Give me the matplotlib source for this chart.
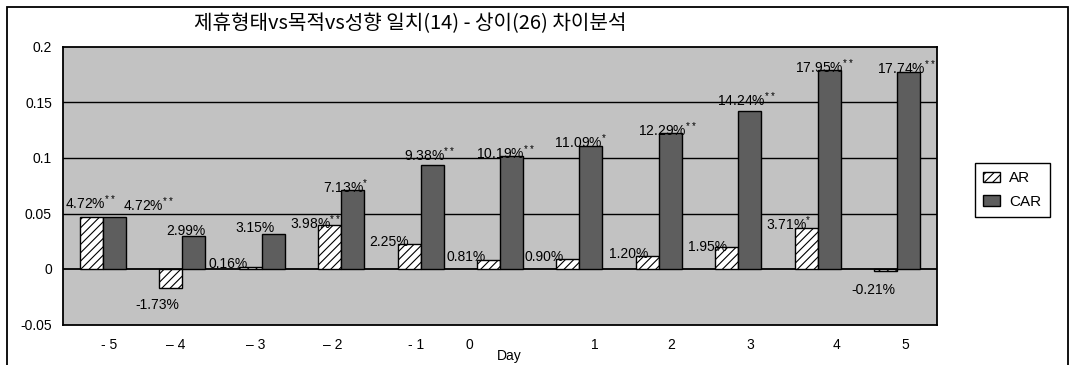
import matplotlib
matplotlib.use('Agg')
import matplotlib.pyplot as plt
import matplotlib.patches as mpatches
import numpy as np

plt.rcParams['font.family'] = ['Liberation Sans', 'Noto Sans CJK KR', 'DejaVu Sans']
plt.rcParams['hatch.linewidth'] = 0.8
plt.rcParams['mathtext.fontset'] = 'custom'
plt.rcParams['mathtext.rm'] = 'Liberation Sans'
plt.rcParams['mathtext.it'] = 'Liberation Sans'

title = '제휴형태vs목적vs성향 일치(14) - 상이(26) 차이분석'

days = ['- 5', '\u2013 4', '\u2013 3', '\u2013 2', '- 1', '0', '1', '2', '3', '4', '5']
ar = [0.0472, -0.0173, 0.0016, 0.0398, 0.0225, 0.0081, 0.0090, 0.0120, 0.0195, 0.0371, -0.0021]
car = [0.0472, 0.0299, 0.0315, 0.0713, 0.0938, 0.1019, 0.1109, 0.1229, 0.1424, 0.1795, 0.1774]
ar_sig = ['**', '', '', '**', '', '', '', '', '', '*', '']
car_sig = ['**', '', '', '*', '**', '**', '*', '**', '**', '**', '**']

# hand placement of the value labels (pixels from the bar end)
ar_dx = [-1, -13, -22, -14, -20, -22, -24, -19, -19, -18, -12]
ar_dy = [14, -17, 3, 2, 2, 3, 2, 2, 0, 4, -19]
car_dx = [34, -8, -18, -7, -3, -6, -10, -3, -3, -5, -2]
car_dy = [12, 5, 6, 3, 10, 3, 4, 3, 11, 3, 4]
# day labels sit a little off the group centres
tick_shift = [0.08, -0.08, -0.08, -0.10, -0.06, -0.38, 0.19, 0.15, 0.15, 0.23, 0.10]

bg = '#c2c2c2'
car_color = '#5e5e5e'

fig = plt.figure(figsize=(10.79, 3.65), dpi=100)
ax = fig.add_axes([63/1079, 1 - 324.5/365, 874/1079, 277.5/365])
ax.set_facecolor(bg)

x = np.arange(len(days))
w = 0.29
ax.bar(x - w/2, ar, w, color='white', edgecolor='black', hatch='////', linewidth=1, zorder=3, label='AR')
ax.bar(x + w/2, car, w, color=car_color, edgecolor='black', linewidth=1, zorder=3, label='CAR')

ax.set_xlim(-0.5, len(days) - 0.5)
ax.set_ylim(-0.05, 0.2)
ax.set_yticks([-0.05, 0, 0.05, 0.1, 0.15, 0.2])
ax.set_yticklabels(['-0.05', '0', '0.05', '0.1', '0.15', '0.2'])
ax.set_xticks(x + np.array(tick_shift))
ax.set_xticklabels(days)
ax.tick_params(axis='both', length=0, labelsize=10)
ax.tick_params(axis='y', pad=8)
ax.tick_params(axis='x', pad=10)
for s in ax.spines.values():
    s.set_linewidth(1.3)
    s.set_color('black')

for yv in [0.05, 0.1, 0.15]:
    ax.axhline(yv, color='black', linewidth=1, zorder=1)
ax.axhline(0, color='black', linewidth=1.3, zorder=2)

ax.set_xlabel('Day', fontsize=10)
ax.xaxis.set_label_coords(0.511, -0.088)


def fmt(v, sig):
    s = f'{v*100:.2f}%'
    if sig:
        s += '$^{' + sig.replace('*', r'\!*') + '}$'
    return s


for i in range(len(days)):
    for vals, sigs, dxs, dys, off in [(ar, ar_sig, ar_dx, ar_dy, -w/2),
                                      (car, car_sig, car_dx, car_dy, w/2)]:
        v = vals[i]
        ax.annotate(fmt(v, sigs[i]), (x[i] + off, v),
                    xytext=(dxs[i], dys[i]), textcoords='offset pixels',
                    ha='center', va='center', fontsize=10, zorder=5)

fig.text(410/1079, 1 - 24/365, title, ha='center', va='center', fontsize=14.5,
         family=['Noto Sans CJK KR', 'DejaVu Sans'])

handles = [mpatches.Patch(facecolor='white', edgecolor='black', hatch='////', label='AR'),
           mpatches.Patch(facecolor=car_color, edgecolor='black', label='CAR')]
leg = fig.legend(handles=handles, loc='upper left', bbox_to_anchor=(975/1079, 1 - 163/365),
                 borderaxespad=0, fancybox=False, edgecolor='black', framealpha=1,
                 fontsize=11, handlelength=1.1, handleheight=0.7, handletextpad=0.6,
                 labelspacing=0.6, borderpad=0.55)
leg.get_frame().set_linewidth(1)

# chart area border, open at the bottom
fig.patches.append(mpatches.Rectangle((7/1079, -0.1), 1061/1079, 1.1 - 7/365,
                                      transform=fig.transFigure, fill=False,
                                      edgecolor='black', linewidth=1.3))

fig.savefig('out.png', dpi=100)
